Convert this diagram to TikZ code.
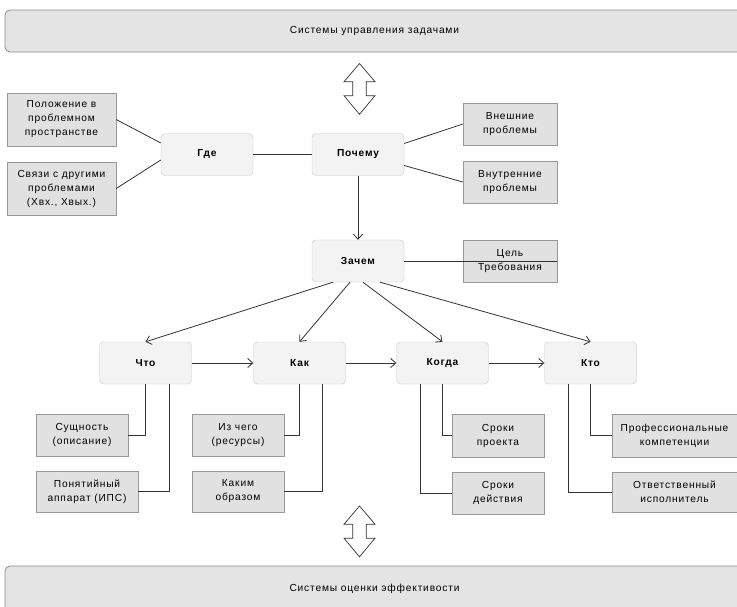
\documentclass[tikz,border=0pt]{standalone}
\usepackage{fontspec}
\setmainfont[LetterSpace=8]{Liberation Sans}
\usetikzlibrary{arrows.meta,calc}
\definecolor{barfill}{HTML}{E4E4E4}
\definecolor{barborder}{HTML}{8C8C8C}
\definecolor{mainfill}{HTML}{F3F3F3}
\definecolor{mainborder}{HTML}{C8C8C8}
\definecolor{sidefill}{HTML}{E1E1E1}
\definecolor{sideborder}{HTML}{999999}
\definecolor{linecol}{HTML}{333333}
\begin{document}
\begin{tikzpicture}[x=1pt,y=-1pt,
  every node/.style={font=\fontsize{10.2}{14}\selectfont, text=black},
  bar/.style={draw=barborder, fill=barfill, rounded corners=5pt, line width=0.8pt, inner sep=0pt},
  mainbox/.style={draw=mainborder, fill=mainfill, rounded corners=4pt, minimum width=92pt, minimum height=42pt, inner sep=0pt, font=\fontsize{10.2}{14}\selectfont\bfseries},
  sidebox/.style={draw=sideborder, fill=sidefill, minimum width=93pt, minimum height=42pt, inner sep=0pt, align=center},
  link/.style={draw=linecol, line width=0.8pt},
  arr/.style={link, -{Straight Barb[length=5pt,width=9pt]}},
  dbl/.style={draw=linecol, fill=white, line width=0.7pt, line join=miter}
]
\clip (0,0) rectangle (737,606);
\useasboundingbox (0,0) rectangle (737,606);
\fill[white] (0,0) rectangle (737,606);

% bars
\node[bar, minimum width=739pt, minimum height=42pt] (top) at (374.5,31) {Системы управления задачами};
\node[bar, minimum width=739pt, minimum height=46pt] (bot) at (374.5,589) {Системы оценки эффективости};

% double arrows
\foreach \dy in {0, 442.5}{
  \begin{scope}[yshift=-\dy pt]
    \draw[dbl] (359.5,63.5) -- (375,81.7) -- (366.3,81.7) -- (366.3,95.7) -- (375,95.7) -- (359.5,114.3) -- (344,95.7) -- (352.7,95.7) -- (352.7,81.7) -- (344,81.7) -- cycle;
  \end{scope}
}

% main nodes
\node[mainbox] (gde) at (207,154.5) {Где};
\node[mainbox] (poch) at (358,154.5) {Почему};
\node[mainbox] (zach) at (358,261) {Зачем};
\node[mainbox] (chto) at (145.5,363) {Что};
\node[mainbox] (kak) at (299.5,363) {Как};
\node[mainbox] (kogda) at (442.5,363) {Когда};
\node[mainbox] (kto) at (590.5,363) {Кто};

% side boxes
\node[sidebox, minimum width=109pt, minimum height=53pt] (pol) at (61.5,119.5) {Положение в\\проблемном\\пространстве};
\node[sidebox, minimum width=109pt, minimum height=53pt] (svy) at (61.5,188.5) {Связи с другими\\проблемами\\(Xвх., Xвых.)};
\node[sidebox, minimum width=94pt] (vnesh) at (510,124) {Внешние\\проблемы};
\node[sidebox, minimum width=94pt] (vnutr) at (510,182) {Внутренние\\проблемы};
\node[sidebox, minimum width=94pt] (cel) at (510,261) {Цель\\Требования};
\node[sidebox, minimum width=92pt] (sush) at (82,435) {Сущность\\(описание)};
\node[sidebox, minimum width=102pt, minimum height=41pt] (pon) at (87,491.5) {Понятийный\\аппарат (ИПС)};
\node[sidebox, minimum width=92pt] (izch) at (238,435) {Из чего\\(ресурсы)};
\node[sidebox, minimum width=92pt, minimum height=41pt] (kakim) at (238,491.5) {Каким\\образом};
\node[sidebox, minimum width=92pt, minimum height=43pt] (srp) at (498,435.5) {Сроки\\проекта};
\node[sidebox, minimum width=92pt] (srd) at (498,493) {Сроки\\действия};
\node[sidebox, minimum width=124.5pt, minimum height=43pt] (prof) at (674.5,435.5) {Профессиональные\\компетенции};
\node[sidebox, minimum width=124.5pt, minimum height=40pt] (otv) at (674.5,492) {Ответственный\\исполнитель};

% connectors top part
\draw[link] (pol.east) -- ($(gde.west)+(0,-11.5)$);
\draw[link] (svy.east) -- ($(gde.west)+(0,5.5)$);
\draw[link] (gde.east) -- (poch.west);
\draw[link] ($(poch.east)+(0,-11)$) -- (vnesh.west);
\draw[link] ($(poch.east)+(0,11)$) -- (vnutr.west);
\draw[arr] (poch.south) -- (zach.north);
\draw[link] (zach.east) -- (cel.east);

% fan from Зачем
\coordinate (z1) at ($(zach.south)+(-25,0)$);
\coordinate (z2) at ($(zach.south)+(-8,0)$);
\coordinate (z3) at ($(zach.south)+(5,0)$);
\coordinate (z4) at ($(zach.south)+(22,0)$);
\draw[arr] (z1) -- (chto.north);
\draw[arr] (z2) -- (kak.north);
\draw[arr] (z3) -- (kogda.north);
\draw[arr] (z4) -- (kto.north);

% chain
\draw[arr] (chto.east) -- (kak.west);
\draw[arr] (kak.east) -- (kogda.west);
\draw[arr] (kogda.east) -- (kto.west);

% trees
\draw[link] (chto.south) |- (sush.east);
\draw[link] ($(chto.south)+(23.5,0)$) |- (pon.east);
\draw[link] (kak.south) |- (izch.east);
\draw[link] ($(kak.south)+(22.5,0)$) |- (kakim.east);
\draw[link] (kogda.south) |- (srp.west);
\draw[link] ($(kogda.south)+(-22.5,0)$) |- (srd.west);
\draw[link] (kto.south) |- (prof.west);
\draw[link] ($(kto.south)+(-22.5,0)$) |- (otv.west);
\end{tikzpicture}
\end{document}
